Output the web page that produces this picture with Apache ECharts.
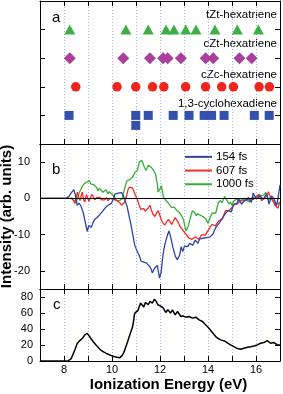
<!DOCTYPE html>
<html><head><meta charset="utf-8">
<script src="https://cdn.jsdelivr.net/npm/echarts@6/dist/echarts.min.js"></script>
<style>html,body{margin:0;padding:0;background:#fff}#c{width:283px;height:394px}</style>
</head><body><div id="c"></div>
<script>
// ---- Panel a: calculated ionization energies (eV) ----
var tztX = [8.24, 10.58, 11.51, 12.25, 12.58, 13.07, 13.50, 14.29, 15.22, 16.10];
var cztX = [8.24, 10.47, 11.58, 12.13, 12.32, 12.87, 13.90, 14.22, 15.31, 15.82];
var czcX = [8.49, 10.21, 10.99, 11.69, 12.16, 13.07, 13.90, 14.57, 15.06, 16.13, 16.56];
var chdX = [8.21, 10.99, 11.51, 12.55, 13.21, 13.84, 14.15, 14.67, 15.93, 16.55];
var chdLowerX = [10.99];
var rowNames = ['tZt-hexatriene', 'cZt-hexatriene', 'cZc-hexatriene', '1,3-cyclohexadiene'];

// ---- Panel b: difference spectra [eV, intensity] ----
var d154 = [[7.0,0],[8.05,0],[8.2,0.5],[8.3,1.5],[8.41,2.4],[8.47,1.0],[8.55,-1.9],[8.62,-1.3],[8.7,-2.0],[8.8,-3.9],[8.9,-7.0],[8.97,-9.2],[9.03,-7.5],[9.1,-7.8],[9.14,-8.0],[9.2,-6.8],[9.28,-5.8],[9.35,-5.6],[9.42,-5.0],[9.5,-4.4],[9.63,-3.4],[9.72,-2.6],[9.84,-1.9],[9.92,-1.8],[9.98,-1.3],[10.05,-0.3],[10.12,1.2],[10.2,1.0],[10.3,1.5],[10.4,1.6],[10.47,0.8],[10.55,0.3],[10.62,-2.0],[10.7,-4.5],[10.8,-7.6],[10.88,-10.5],[10.94,-12.7],[11.0,-13.8],[11.08,-15.0],[11.15,-16.0],[11.22,-17.4],[11.3,-17.5],[11.43,-17.8],[11.5,-18.0],[11.57,-18.8],[11.63,-19.5],[11.68,-20.6],[11.73,-19.8],[11.78,-19.2],[11.84,-18.8],[11.89,-18.5],[11.94,-20.5],[11.98,-22.0],[12.05,-20.3],[12.1,-17.0],[12.16,-14.1],[12.23,-12.0],[12.3,-10.4],[12.37,-9.0],[12.42,-10.0],[12.47,-11.4],[12.54,-13.6],[12.6,-15.0],[12.64,-16.0],[12.72,-16.9],[12.78,-16.5],[12.82,-15.6],[12.88,-13.3],[12.95,-14.7],[13.02,-13.1],[13.1,-13.5],[13.16,-13.3],[13.23,-12.4],[13.3,-12.8],[13.37,-12.9],[13.47,-11.5],[13.52,-12.0],[13.58,-12.4],[13.65,-11.2],[13.72,-10.9],[13.79,-11.0],[13.86,-11.3],[13.93,-10.8],[14.0,-10.4],[14.07,-10.7],[14.14,-10.9],[14.21,-9.8],[14.28,-8.6],[14.35,-7.8],[14.42,-7.2],[14.49,-6.6],[14.56,-5.8],[14.63,-5.2],[14.7,-4.4],[14.77,-3.9],[14.83,-3.4],[14.9,-3.6],[14.97,-3.7],[15.02,-2.6],[15.08,-1.6],[15.14,-2.0],[15.2,-1.4],[15.28,-0.2],[15.34,-0.9],[15.4,-1.6],[15.47,-1.0],[15.53,-0.6],[15.6,-0.3],[15.67,0],[15.74,-0.5],[15.81,-1.1],[15.88,1.5],[15.95,0.6],[16.02,-0.2],[16.09,0.3],[16.16,0.7],[16.23,0.2],[16.3,-0.2],[16.37,0.5],[16.44,1.2],[16.49,0.0],[16.54,-1.6],[16.6,-0.4],[16.65,0.7],[16.72,0.1],[16.78,-0.6],[16.85,-2.0],[16.9,-0.6],[16.95,1.5],[17.0,3.7]];
var d607 = [[7,0],[8.35,0],[8.45,-1.3],[8.5,-0.8],[8.56,1.7],[8.62,0.2],[8.67,-0.6],[8.76,1.8],[8.82,-0.4],[8.87,-1.0],[8.93,1.0],[8.98,1.5],[9.04,-0.8],[9.1,0.2],[9.16,1.1],[9.22,0.4],[9.28,-0.4],[9.36,0.2],[9.42,-0.2],[9.5,0.3],[9.56,-0.4],[9.63,0.1],[9.7,-0.4],[9.77,0.2],[9.84,-0.6],[9.91,0.0],[9.98,0.3],[10.05,-0.2],[10.12,0.2],[10.2,-0.6],[10.27,-0.9],[10.34,-1.3],[10.4,-1.9],[10.47,-1.5],[10.53,-1.0],[10.6,0.5],[10.67,2.5],[10.73,3.1],[10.8,3.4],[10.86,2.8],[10.9,2.2],[10.95,1.2],[11.0,0.5],[11.07,-0.6],[11.13,-1.8],[11.2,-3.0],[11.25,-2.5],[11.32,-2.8],[11.38,-3.5],[11.44,-3.7],[11.5,-2.8],[11.58,-1.9],[11.64,-3.2],[11.7,-4.3],[11.75,-4.6],[11.79,-5.0],[11.86,-4.0],[11.93,-3.4],[12.0,-4.8],[12.07,-6.2],[12.13,-6.8],[12.2,-7.4],[12.27,-6.5],[12.35,-5.8],[12.42,-6.5],[12.49,-7.2],[12.56,-6.2],[12.63,-5.3],[12.7,-6.0],[12.77,-6.7],[12.84,-7.8],[12.91,-8.4],[12.98,-9.0],[13.05,-9.5],[13.12,-10.2],[13.19,-10.9],[13.26,-11.0],[13.33,-11.3],[13.4,-10.8],[13.47,-10.6],[13.54,-11.0],[13.61,-11.3],[13.68,-10.6],[13.75,-10.0],[13.82,-10.4],[13.89,-10.2],[13.96,-9.3],[14.03,-8.6],[14.1,-7.8],[14.17,-7.2],[14.24,-7.4],[14.31,-7.6],[14.38,-6.8],[14.45,-6.2],[14.52,-6.0],[14.59,-5.8],[14.66,-4.6],[14.73,-3.4],[14.8,-3.6],[14.87,-3.4],[14.94,-2.9],[15.0,-2.5],[15.07,-1.8],[15.14,-1.3],[15.2,-1.6],[15.27,-1.4],[15.34,-0.7],[15.4,-0.2],[15.47,-0.6],[15.54,-1.1],[15.61,-0.4],[15.68,0.3],[15.75,-0.3],[15.82,-0.8],[15.89,-0.3],[15.96,0],[16.03,0.5],[16.1,1.1],[16.17,0.2],[16.24,-0.6],[16.31,-0.2],[16.38,0.1],[16.45,0.8],[16.52,1.8],[16.59,0.6],[16.66,-0.2],[16.73,-1.0],[16.8,-2.0],[16.86,-2.4],[16.92,-2.7],[16.97,-1.1],[17.0,-1.0]];
var d1000 = [[7,0],[8.3,0],[8.4,-0.5],[8.49,-1.3],[8.56,-1.6],[8.64,1.7],[8.71,2.6],[8.78,3.5],[8.87,4.2],[8.96,4.5],[9.06,4.9],[9.11,4.0],[9.16,3.5],[9.23,3.8],[9.3,4.0],[9.36,3.0],[9.41,2.1],[9.48,2.8],[9.55,2.3],[9.62,1.7],[9.69,2.0],[9.76,2.4],[9.83,1.2],[9.88,1.8],[9.93,2.1],[9.99,1.2],[10.05,0.7],[10.1,0.4],[10.15,0.0],[10.2,-0.6],[10.25,-1.1],[10.3,-0.6],[10.36,-0.7],[10.42,-0.2],[10.47,1.2],[10.52,2.6],[10.58,4.0],[10.63,4.9],[10.69,5.4],[10.74,5.2],[10.79,4.9],[10.85,5.8],[10.9,6.3],[10.96,7.2],[11.0,7.4],[11.06,7.7],[11.1,9.0],[11.14,10.0],[11.19,10.3],[11.24,10.5],[11.3,9.5],[11.35,8.6],[11.42,7.7],[11.46,8.4],[11.51,9.1],[11.58,9.6],[11.63,8.6],[11.7,8.0],[11.76,7.7],[11.81,6.8],[11.85,6.3],[11.9,3.5],[11.92,1.7],[11.96,2.2],[12.0,2.6],[12.06,3.5],[12.1,1.8],[12.15,0.3],[12.2,-0.2],[12.25,-0.6],[12.31,-1.1],[12.37,-1.5],[12.43,-2.0],[12.48,-2.5],[12.53,-3.0],[12.6,-2.5],[12.65,-2.8],[12.71,-3.4],[12.77,-3.6],[12.81,-3.9],[12.86,-4.2],[12.9,-4.8],[12.95,-5.4],[12.99,-6.2],[13.04,-7.8],[13.09,-9.0],[13.14,-8.2],[13.18,-7.6],[13.22,-6.6],[13.25,-5.8],[13.3,-4.5],[13.35,-3.4],[13.41,-3.8],[13.46,-4.1],[13.51,-4.8],[13.56,-4.2],[13.61,-3.9],[13.66,-4.6],[13.72,-4.8],[13.78,-5.0],[13.84,-5.3],[13.9,-5.6],[13.96,-6.0],[14.01,-6.9],[14.06,-5.8],[14.12,-4.8],[14.18,-4.0],[14.26,-3.5],[14.32,-4.1],[14.38,-2.5],[14.43,-1.2],[14.47,-1.0],[14.52,-0.6],[14.58,-1.2],[14.63,-0.5],[14.69,0.5],[14.75,-0.2],[14.81,-0.8],[14.88,-1.6],[14.94,-1.0],[15.0,-2.0],[15.06,-0.8],[15.12,-0.4],[15.19,-0.2],[15.25,0.0],[15.32,-0.6],[15.38,-1.0],[15.45,-0.3],[15.52,0.0],[15.59,-0.5],[15.65,-0.5],[15.72,-1.0],[15.8,0.0],[15.86,0.3],[15.92,0.4],[16.0,0.8],[16.07,0.5],[16.14,1.2],[16.2,0.6],[16.27,0.2],[16.34,1.0],[16.4,1.7],[16.46,0.8],[16.52,-0.5],[16.58,0.2],[16.65,0.3],[16.72,-0.6],[16.8,-2.0],[16.86,-1.2],[16.92,-1.5],[17.0,-1.6]];

// ---- Panel c: ground-state spectrum [eV, intensity] ----
var groundSpec = [[7.0,0],[8.17,0],[8.24,1.3],[8.3,3],[8.35,5.4],[8.45,13.8],[8.55,22],[8.66,25.5],[8.77,28.5],[8.87,32.6],[8.96,34.7],[9.05,31.4],[9.14,27.2],[9.21,24.5],[9.28,22.2],[9.35,19.5],[9.42,17.2],[9.52,14],[9.63,11.7],[9.74,9.8],[9.84,8.4],[9.95,7],[10.05,5.9],[10.12,5],[10.19,4.6],[10.26,4.4],[10.33,4.2],[10.39,5.2],[10.44,7.5],[10.51,12],[10.58,18],[10.65,24],[10.72,30.5],[10.79,37],[10.86,43],[10.9,50],[10.93,57.7],[10.97,60.5],[11.02,62],[11.08,63],[11.13,64.8],[11.19,72.4],[11.25,70.3],[11.32,67.4],[11.39,73.2],[11.45,70.8],[11.51,70.3],[11.58,74.5],[11.64,73.5],[11.68,72.4],[11.77,77.4],[11.84,74.5],[11.91,70.3],[11.98,72.4],[12.05,68.2],[12.14,66.1],[12.24,60.7],[12.33,64],[12.44,59.8],[12.52,64],[12.63,57.7],[12.73,61.9],[12.87,55.6],[12.96,56.5],[13.07,54.8],[13.21,55.6],[13.35,53.6],[13.49,54.8],[13.63,51.5],[13.77,49.4],[13.9,45.2],[14.04,41],[14.18,35.6],[14.32,30.5],[14.43,28],[14.53,26.4],[14.63,25.5],[14.73,24.3],[14.84,22],[14.94,20.1],[15.08,18],[15.22,15.5],[15.36,14.6],[15.43,16.5],[15.5,15.9],[15.57,17.5],[15.64,17.2],[15.71,16.2],[15.78,17.8],[15.92,18.8],[16.05,20.1],[16.19,22.2],[16.33,23],[16.47,25.5],[16.54,24.3],[16.61,22.2],[16.75,23],[16.89,20.1],[17.0,20.1]];

// ---- Tick values / labels ----
var xLabelVals = [8, 10, 12, 14, 16];
var bTickVals = [-20, -10, 0, 10];
var cTickVals = [0, 20, 40, 60, 80];
var legendNames = ['154 fs', '607 fs', '1000 fs'];

var FONT = '"Liberation Sans", Arial, Helvetica, sans-serif';
var black = '#000';
var gridCol = '#aab0e6';

function xAx(grid, pos, opts) {
  return Object.assign({
    type: 'value', gridIndex: grid, position: pos, min: 7, max: 17, interval: 1,
    axisLine: { show: true, onZero: false, lineStyle: { color: black, width: 1 } },
    axisTick: { show: true, inside: true, length: 5, lineStyle: { color: black } },
    axisLabel: { show: false },
    splitLine: { show: false }
  }, opts || {});
}
function yAx(grid, pos, min, max, ticks, showLabel, margin) {
  return {
    type: 'value', gridIndex: grid, position: pos, min: min, max: max,
    axisLine: { show: true, onZero: false, lineStyle: { color: black, width: 1 } },
    axisTick: { show: true, inside: true, length: 5, customValues: ticks, lineStyle: { color: black } },
    axisLabel: { show: showLabel, customValues: ticks, color: black, fontSize: 11, fontFamily: FONT, margin: margin || 8 },
    splitLine: { show: false }
  };
}
var split = { show: true, showMinLine: false, showMaxLine: false, lineStyle: { color: gridCol, type: [1, 2], width: 1 } };

var chart = echarts.init(document.getElementById('c'), null, { renderer: 'canvas' });
var option = {
  animation: false,
  backgroundColor: '#fff',
  textStyle: { fontFamily: FONT },
  grid: [
    { left: 40, right: 3, top: 1, height: 143 },
    { left: 40, right: 3, top: 144, height: 145 },
    { left: 40, right: 3, top: 289, height: 72 }
  ],
  xAxis: [
    xAx(0, 'bottom', { splitLine: split }),
    xAx(0, 'top'),
    xAx(1, 'bottom', { splitLine: split }),
    xAx(1, 'top', { axisTick: { show: false } }),
    xAx(2, 'bottom', { splitLine: split, axisLabel: { show: true, color: black, fontSize: 11, fontFamily: FONT, margin: 3,
      formatter: function (v) { return xLabelVals.indexOf(v) >= 0 ? String(v) : ''; } } }),
    xAx(2, 'top')
  ],
  yAxis: [
    yAx(0, 'left', 0, 5, [1, 2, 3, 4], false),
    yAx(0, 'right', 0, 5, [1, 2, 3, 4], false),
    yAx(1, 'left', -25, 15, bTickVals, true, 10),
    yAx(1, 'right', -25, 15, bTickVals, false),
    yAx(2, 'left', 0, 90, cTickVals, true, 7),
    yAx(2, 'right', 0, 90, cTickVals, false)
  ],
  legend: {
    orient: 'vertical', left: 185, top: 150, itemWidth: 27, itemHeight: 2, itemGap: 0, icon: 'rect',
    textStyle: { fontSize: 11.5, fontFamily: FONT, color: black, lineHeight: 13.7, padding: [0, 0, 0, -1] },
    padding: 0, data: legendNames
  },
  series: [
    { type: 'scatter', xAxisIndex: 0, yAxisIndex: 0, symbol: 'triangle', symbolSize: [11, 10],
      itemStyle: { color: '#3db045', opacity: 1 }, data: tztX.map(function (x) { return [x, 4]; }) },
    { type: 'scatter', xAxisIndex: 0, yAxisIndex: 0, symbol: 'diamond', symbolSize: 12,
      itemStyle: { color: '#a8409c', opacity: 1 }, data: cztX.map(function (x) { return [x, 3]; }) },
    { type: 'scatter', xAxisIndex: 0, yAxisIndex: 0, symbol: 'circle', symbolSize: 9.5,
      itemStyle: { color: '#f0261e', opacity: 1 }, data: czcX.map(function (x) { return [x, 2]; }) },
    { type: 'scatter', xAxisIndex: 0, yAxisIndex: 0, symbol: 'rect', symbolSize: 9,
      itemStyle: { color: '#3350ad', opacity: 1 },
      data: chdX.map(function (x) { return [x, 1]; }).concat(chdLowerX.map(function (x) { return [x, 0.65]; })) },
    { name: '154 fs', type: 'line', xAxisIndex: 2, yAxisIndex: 2, showSymbol: false, symbol: 'none',
      lineStyle: { color: '#2c44a8', width: 1.3 }, itemStyle: { color: '#2c44a8' }, data: d154, z: 4,
      markLine: { silent: true, symbol: 'none', label: { show: false }, lineStyle: { color: black, width: 1, type: 'solid' }, data: [{ yAxis: 0 }] } },
    { name: '607 fs', type: 'line', xAxisIndex: 2, yAxisIndex: 2, showSymbol: false, symbol: 'none',
      lineStyle: { color: '#f52a20', width: 1.3 }, itemStyle: { color: '#f52a20' }, data: d607, z: 3 },
    { name: '1000 fs', type: 'line', xAxisIndex: 2, yAxisIndex: 2, showSymbol: false, symbol: 'none',
      lineStyle: { color: '#35b035', width: 1.3 }, itemStyle: { color: '#35b035' }, data: d1000, z: 2 },
    { type: 'line', xAxisIndex: 4, yAxisIndex: 4, showSymbol: false, symbol: 'none',
      lineStyle: { color: black, width: 1.5 }, data: groundSpec }
  ],
  graphic: [
    { type: 'text', left: 52, top: 10, style: { text: 'a', font: '15px ' + FONT, fill: black } },
    { type: 'text', left: 52, top: 162, style: { text: 'b', font: '15px ' + FONT, fill: black } },
    { type: 'text', left: 53, top: 297, style: { text: 'c', font: '15px ' + FONT, fill: black } },
    { type: 'text', right: 6, top: 9, style: { text: rowNames[0], font: '11.5px ' + FONT, fill: black } },
    { type: 'text', right: 6, top: 38, style: { text: rowNames[1], font: '11.5px ' + FONT, fill: black } },
    { type: 'text', right: 6, top: 69, style: { text: rowNames[2], font: '11.5px ' + FONT, fill: black } },
    { type: 'text', right: 6, top: 98, style: { text: rowNames[3], font: '11.5px ' + FONT, fill: black } },
    { type: 'text', x: 168.5, y: 385, style: { text: 'Ionization Energy (eV)', font: 'bold 15px ' + FONT, fill: black, align: 'center', verticalAlign: 'middle' } },
    { type: 'text', x: 7, y: 216.5, rotation: Math.PI / 2, style: { text: 'Intensity (arb. units)', font: 'bold 15px ' + FONT, fill: black, align: 'center', verticalAlign: 'middle' } }
  ]
};
chart.setOption(option);
</script></body></html>
